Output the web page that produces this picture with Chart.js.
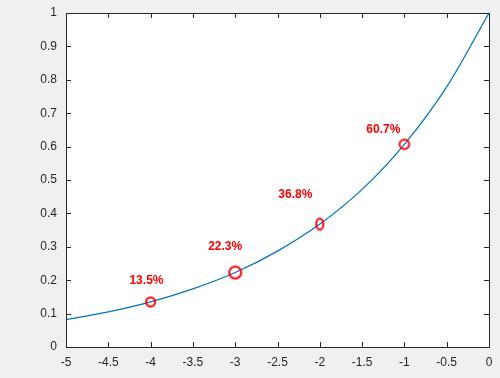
<!DOCTYPE html>
<html>
<head>
<meta charset="utf-8">
<script src="https://cdn.jsdelivr.net/npm/chart.js@4.4.1/dist/chart.umd.min.js"></script>
<style>
  html, body { margin: 0; padding: 0; background: #f0f0f0; }
  #wrap { width: 500px; height: 378px; }
</style>
</head>
<body>
<div id="wrap"><canvas id="expChart" width="500" height="378"></canvas></div>
<script>
// curve
const curveX = [-5, -4.5, -4, -3.5, -3, -2.5, -2, -1.5, -1, -0.5, 0];
const curveY = [0.082, 0.105, 0.135, 0.174, 0.223, 0.287, 0.368, 0.472, 0.607, 0.779, 1.0];

// highlighted points and their labels
const markX = [-4, -3, -2, -1];
const markY = [0.135, 0.223, 0.368, 0.607];
const markText = ['13.5%', '22.3%', '36.8%', '60.7%'];
const labelX = [-4.25, -3.32, -2.49, -1.45];
const labelY = [0.20, 0.30, 0.455, 0.65];

const axisColor = '#262626';

// marker images: MATLAB draws them with different sizes
const makeMarker = (rx, ry) => {
    const c = document.createElement('canvas');
    const w = Math.ceil(rx * 2 + 4), h = Math.ceil(ry * 2 + 4);
    c.width = w; c.height = h;
    const g = c.getContext('2d');
    g.strokeStyle = '#ff0000';
    g.lineWidth = 2;
    g.beginPath();
    g.ellipse(w / 2, h / 2, rx, ry, 0, 0, Math.PI * 2);
    g.stroke();
    return c;
};
const markerStyles = [makeMarker(4.5, 4.5), makeMarker(6, 6), makeMarker(3.5, 5.5), makeMarker(4.8, 4.8)];

const fmt = v => String(Math.round(v * 10) / 10);

// white plot area, inward ticks on all sides, box
const matlabAxes = {
    id: 'matlabAxes',
    beforeDatasetsDraw(chart) {
        const { ctx, chartArea: a } = chart;
        ctx.save();
        ctx.fillStyle = '#ffffff';
        ctx.fillRect(a.left, a.top, a.right - a.left, a.bottom - a.top);
        ctx.restore();
    },
    afterDatasetsDraw(chart) {
        const { ctx, chartArea: a, scales } = chart;
        ctx.save();
        // labels
        ctx.fillStyle = '#ff0000';
        ctx.font = 'bold 12px "Liberation Sans", Arial, sans-serif';
        ctx.textAlign = 'left';
        ctx.textBaseline = 'middle';
        markText.forEach((t, i) => {
            ctx.fillText(t, scales.x.getPixelForValue(labelX[i]), scales.y.getPixelForValue(labelY[i]));
        });
        // ticks
        ctx.strokeStyle = axisColor;
        ctx.lineWidth = 1;
        ctx.beginPath();
        scales.x.ticks.forEach(t => {
            const px = Math.round(scales.x.getPixelForValue(t.value)) + 0.5;
            ctx.moveTo(px, a.bottom); ctx.lineTo(px, a.bottom - 5);
            ctx.moveTo(px, a.top); ctx.lineTo(px, a.top + 5);
        });
        scales.y.ticks.forEach(t => {
            const py = Math.round(scales.y.getPixelForValue(t.value)) + 0.5;
            ctx.moveTo(a.left, py); ctx.lineTo(a.left + 5, py);
            ctx.moveTo(a.right, py); ctx.lineTo(a.right - 5, py);
        });
        ctx.stroke();
        ctx.strokeRect(Math.round(a.left) + 0.5, Math.round(a.top) + 0.5,
            Math.round(a.right - a.left), Math.round(a.bottom - a.top));
        ctx.restore();
    }
};

new Chart(document.getElementById('expChart'), {
    type: 'scatter',
    data: {
        datasets: [
            {
                data: markX.map((x, i) => ({ x: x, y: markY[i] })),
                pointStyle: markerStyles,
                pointRadius: 6,
                showLine: false,
                order: 0
            },
            {
                data: curveX.map((x, i) => ({ x: x, y: curveY[i] })),
                showLine: true,
                borderColor: '#0072bd',
                borderWidth: 1.2,
                pointRadius: 0,
                cubicInterpolationMode: 'monotone',
                order: 1
            }
        ]
    },
    plugins: [matlabAxes],
    options: {
        responsive: false,
        animation: false,
        events: [],
        layout: { padding: { top: 13, right: 11, left: 0, bottom: 0 } },
        plugins: {
            legend: { display: false },
            tooltip: { enabled: false }
        },
        scales: {
            x: {
                type: 'linear',
                min: -5,
                max: 0,
                ticks: {
                    stepSize: 0.5,
                    color: axisColor,
                    padding: 8,
                    callback: fmt,
                    font: { family: '"Liberation Sans", Arial, sans-serif', size: 12 }
                },
                grid: { drawOnChartArea: false, drawTicks: false },
                border: { display: false },
                afterFit: s => { s.height = 31; s.paddingLeft = 0; s.paddingRight = 0; }
            },
            y: {
                min: 0,
                max: 1,
                ticks: {
                    stepSize: 0.1,
                    color: axisColor,
                    padding: 9,
                    callback: fmt,
                    font: { family: '"Liberation Sans", Arial, sans-serif', size: 12 }
                },
                grid: { drawOnChartArea: false, drawTicks: false },
                border: { display: false },
                afterFit: s => { s.width = 66; s.paddingTop = 0; s.paddingBottom = 0; }
            }
        }
    }
});
</script>
</body>
</html>
